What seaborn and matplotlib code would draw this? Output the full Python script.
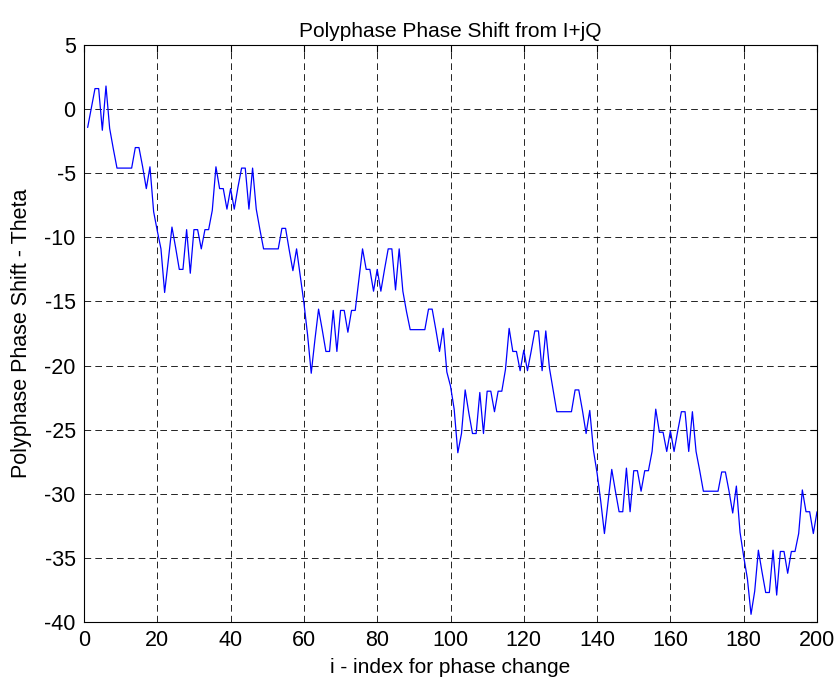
import matplotlib
matplotlib.use("Agg")
import matplotlib.pyplot as plt
import seaborn as sns
import numpy as np
import pandas as pd

# index values 1..200
index = list(range(1, 201))
theta = [
    -1.43, 0.1, 1.6, 1.6, -1.65, 1.8, -1.5, -3.1, -4.6, -4.6,
    -4.6, -4.6, -4.6, -3.0, -3.0, -4.5, -6.2, -4.5, -8.0, -9.5,
    -10.9, -14.3, -11.8, -9.2, -10.8, -12.5, -12.5, -9.4, -12.8, -9.4,
    -9.4, -10.9, -9.4, -9.4, -7.9, -4.5, -6.2, -6.2, -7.8, -6.2,
    -7.8, -6.1, -4.6, -4.6, -7.8, -4.6, -7.8, -9.4, -10.9, -10.9,
    -10.9, -10.9, -10.9, -9.3, -9.3, -11.0, -12.6, -10.9, -13.0, -15.1,
    -17.6, -20.6, -18.0, -15.6, -17.2, -18.9, -18.9, -15.7, -18.9, -15.7,
    -15.7, -17.4, -15.7, -15.7, -13.3, -10.9, -12.5, -12.5, -14.2, -12.5,
    -14.2, -12.5, -10.9, -10.9, -14.1, -10.9, -14.2, -15.8, -17.2, -17.2,
    -17.2, -17.2, -17.2, -15.6, -15.6, -17.2, -18.9, -17.1, -20.5, -21.6,
    -23.4, -26.8, -25.3, -21.9, -23.7, -25.3, -25.3, -22.1, -25.3, -22.0,
    -22.0, -23.6, -22.0, -22.0, -20.3, -17.1, -18.9, -18.9, -20.4, -18.8,
    -20.4, -18.9, -17.3, -17.3, -20.4, -17.3, -20.2, -21.9, -23.6, -23.6,
    -23.6, -23.6, -23.6, -21.9, -21.9, -23.5, -25.3, -23.5, -26.6, -28.4,
    -30.6, -33.1, -30.6, -28.1, -29.8, -31.4, -31.4, -28.0, -31.4, -28.2,
    -28.2, -29.8, -28.2, -28.2, -26.7, -23.4, -25.2, -25.2, -26.7, -25.1,
    -26.7, -25.1, -23.6, -23.6, -26.7, -23.6, -26.7, -28.2, -29.8, -29.8,
    -29.8, -29.8, -29.8, -28.3, -28.3, -29.8, -31.5, -29.4, -33.0, -34.9,
    -36.6, -39.4, -37.6, -34.4, -36.1, -37.7, -37.7, -34.4, -37.9, -34.5,
    -34.5, -36.2, -34.5, -34.5, -33.1, -29.7, -31.4, -31.4, -33.1, -31.4,
]
xticks = list(range(0, 201, 20))
yticks = list(range(-40, 6, 5))

title = "Polyphase Phase Shift from I+jQ"
xlabel = "i - index for phase change"
ylabel = "Polyphase Phase Shift - Theta"

sns.set_style("white")
plt.rcParams["font.family"] = ["Liberation Sans", "DejaVu Sans"]
plt.rcParams["axes.unicode_minus"] = False
plt.rcParams["text.color"] = "black"
plt.rcParams["axes.labelcolor"] = "black"

df = pd.DataFrame({"i": index, "theta": theta})

fig = plt.figure(figsize=(8.38, 6.82), dpi=100)
ax = fig.add_axes([84 / 838, 1 - 622 / 682, (817 - 84) / 838, (622 - 45) / 682])

sns.lineplot(data=df, x="i", y="theta", ax=ax, color=(0, 0, 1), linewidth=0.9)

fs = 15
ax.set_xlim(0, 200)
ax.set_ylim(-40, 5)
ax.set_xticks(xticks)
ax.set_yticks(yticks)
ax.grid(True, color="black", linestyle=(0, (8, 5)), linewidth=0.6)
ax.tick_params(direction="in", top=True, right=True, length=5, width=0.8,
               labelsize=15.5, colors="black", pad=6)
for s in ax.spines.values():
    s.set_color("black")
    s.set_linewidth(0.8)

ax.set_title(title, fontsize=fs, pad=6, color="black")
ax.set_xlabel(xlabel, fontsize=fs, labelpad=5, color="black")
ax.set_ylabel(ylabel, fontsize=15.5, labelpad=9, color="black")

fig.savefig("out.png", dpi=100, facecolor="white")
